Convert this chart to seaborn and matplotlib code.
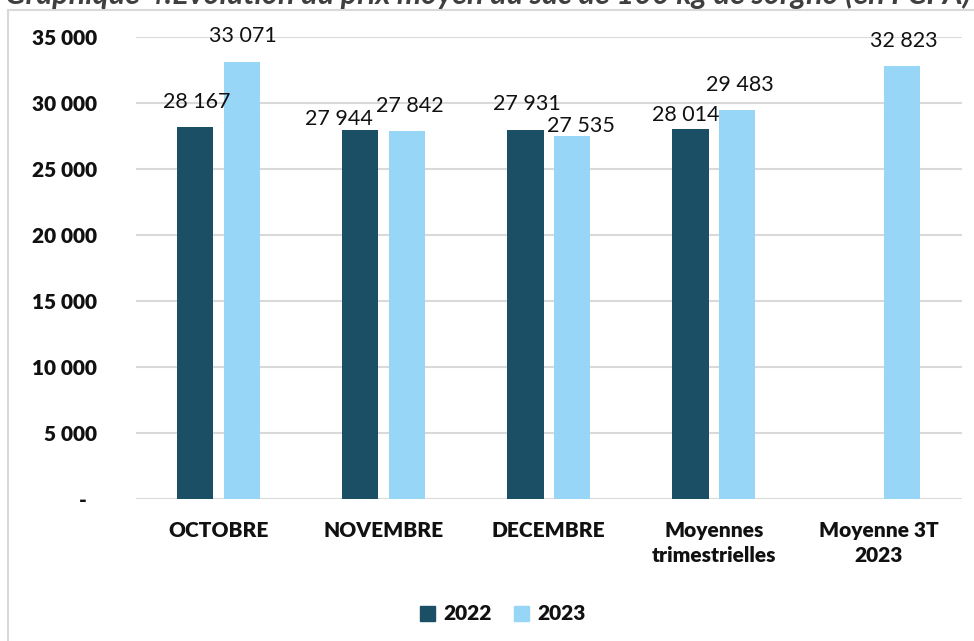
import matplotlib
matplotlib.use("Agg")
import matplotlib.pyplot as plt
import matplotlib.patches as mpatches
import numpy as np
import pandas as pd
import seaborn as sns

# ---- data ----
categories = ["OCTOBRE", "NOVEMBRE", "DECEMBRE", "Moyennes\ntrimestrielles", "Moyenne 3T\n2023"]
values_2022 = [28167, 27944, 27931, 28014, np.nan]
values_2023 = [33071, 27842, 27535, 29483, 32823]
series = ["2022", "2023"]
title = "Graphique 4:Evolution du prix moyen du sac de 100 kg de sorgho (en FCFA)"
yticks = [0, 5000, 10000, 15000, 20000, 25000, 30000, 35000]

# ---- style ----
dark = "#1B4F66"
light = "#97D6F7"
# label offsets in pixels (dx, dy above bar top) per series/category
off_2022 = [(2, 25), (-21, 11), (1, 26), (-5, 14), (0, 25)]
off_2023 = [(1, 26), (3, 25), (9, 10), (3, 25), (2, 25)]
BOLD = "heavy"

sns.set_theme(style="white")
plt.rcParams["font.family"] = ["Lato", "DejaVu Sans"]

df = pd.DataFrame({
    "cat": categories * 2,
    "year": [series[0]] * len(categories) + [series[1]] * len(categories),
    "val": list(values_2022) + list(values_2023),
})

W, H = 974, 641
fig = plt.figure(figsize=(W / 100, H / 100), dpi=100)
L, R, T, B = 136, 961.5, 37, 499
ax = fig.add_axes([L / W, 1 - B / H, (R - L) / W, (B - T) / H])

sns.barplot(data=df, x="cat", y="val", hue="year", hue_order=series,
            palette=[dark, light], saturation=1, width=0.566, gap=0.223,
            linewidth=0, ax=ax, legend=False, order=categories)

ax.set_xlim(-0.5, len(categories) - 0.5)
ax.set_ylim(0, 35000)
ytick_labels = [("-  " if v == 0 else f"{v:,}".replace(",", " ")) for v in yticks]
ax.set_yticks(yticks, labels=ytick_labels, fontweight=BOLD, color="#111111", fontsize=15)
ax.set_xticks(range(len(categories)), labels=categories, fontweight=BOLD,
              color="#111111", fontsize=15, linespacing=1.35)

ax.grid(axis="y", color="#D9D9D9", linewidth=1.5)
ax.set_axisbelow(True)
for s in ax.spines.values():
    s.set_visible(False)
ax.tick_params(axis="y", length=0, pad=28)
ax.tick_params(axis="x", length=0, pad=16)
ax.set_xlabel("")
ax.set_ylabel("")

# value labels
vals = {"2022": values_2022, "2023": values_2023}
offs = {"2022": off_2022, "2023": off_2023}
for ci, cont in enumerate(ax.containers):
    yr = series[ci]
    for i, bar in enumerate(cont):
        v = vals[yr][i]
        if v is None or (isinstance(v, float) and np.isnan(v)):
            continue
        dx, dy = offs[yr][i]
        xc = bar.get_x() + bar.get_width() / 2
        ax.annotate(f"{int(v):,}".replace(",", " "), (xc, v),
                    xytext=(dx * 0.72, dy * 0.72), textcoords="offset points",
                    ha="center", va="center", fontsize=15.5, color="#111111")

# legend
handles = [mpatches.Patch(color=dark, label=series[0]),
           mpatches.Patch(color=light, label=series[1])]
leg = fig.legend(handles=handles, loc="center", bbox_to_anchor=(503 / W, 1 - 614 / H),
                 ncol=2, frameon=False, prop={"size": 15, "weight": BOLD},
                 handlelength=0.7, handleheight=0.7, handletextpad=0.4,
                 columnspacing=1.1)
for t in leg.get_texts():
    t.set_color("#111111")

# chart frame
fig.patches.append(mpatches.Rectangle((8 / W, -0.05), 1.1, 1 - 10 / H + 0.05,
                                      transform=fig.transFigure, fill=False,
                                      edgecolor="#D9D9D9", linewidth=1.5))

# clipped title
fig.text(5 / W, 1 - 4 / H, title, ha="left", va="baseline", fontsize=22,
         fontweight="bold", fontstyle="italic", color="#3F3F3F")

fig.savefig("out.png", dpi=100)
